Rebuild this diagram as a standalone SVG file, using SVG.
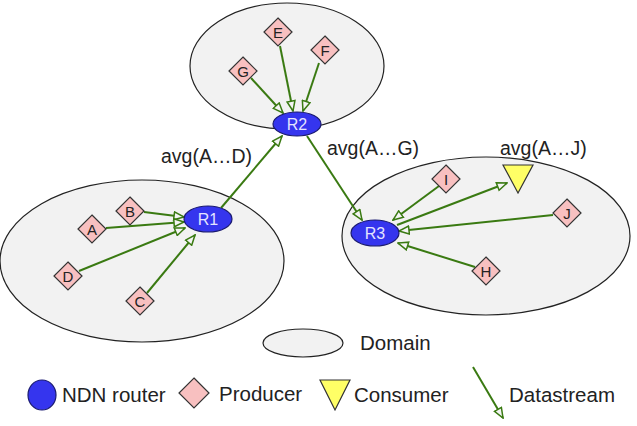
<svg xmlns="http://www.w3.org/2000/svg" width="637" height="426" viewBox="0 0 637 426">
<defs>
<style>
.dom{fill:#f2f2f2;stroke:#222;stroke-width:1.2}
.rt{fill:#3535ee;stroke:#1a1a70;stroke-width:1.2}
.rtx{font-family:"Liberation Sans",Arial,sans-serif;font-size:16px;fill:#e4e4ff;text-anchor:middle}
.pr{fill:#f8c0c0;stroke:#333;stroke-width:1.2}
.prx{font-family:"Liberation Sans",Arial,sans-serif;font-size:15px;fill:#222;text-anchor:middle}
.co{fill:#ffff66;stroke:#333;stroke-width:1.2}
.lb{font-family:"Liberation Sans",Arial,sans-serif;font-size:19.5px;fill:#222}
.ds{stroke:#3a7a12;stroke-width:2;fill:none;marker-end:url(#ah)}
</style>
<marker id="ah" viewBox="0 0 12 10" refX="11" refY="5" markerWidth="12" markerHeight="10" markerUnits="userSpaceOnUse" orient="auto">
<path d="M1,1 L11,5 L1,9 z" fill="#f4f4f4" stroke="#3a7a12" stroke-width="1.5"/>
</marker>
</defs>
<g id="domains">
<ellipse id="domain-top" class="dom" cx="287" cy="66" rx="97" ry="63"/>
<ellipse id="domain-left" class="dom" cx="142" cy="261" rx="142" ry="81"/>
<ellipse id="domain-right" class="dom" cx="486" cy="236" rx="144" ry="79"/>
</g>
<g id="connectors">
<line class="ds" x1="280" y1="46" x2="293" y2="111"/>
<line class="ds" x1="319" y1="63" x2="303" y2="111"/>
<line class="ds" x1="251" y1="78" x2="283" y2="113"/>
<line class="ds" x1="221" y1="208" x2="282" y2="136"/>
<line class="ds" x1="307" y1="136" x2="362" y2="220"/>
<line class="ds" x1="144" y1="212" x2="184" y2="217"/>
<line class="ds" x1="106" y1="228" x2="184" y2="222"/>
<line class="ds" x1="79" y1="271" x2="185" y2="228"/>
<line class="ds" x1="147" y1="293" x2="195" y2="235"/>
<line class="ds" x1="439" y1="186" x2="393" y2="220"/>
<line class="ds" x1="397" y1="225" x2="507" y2="183"/>
<line class="ds" x1="553" y1="215" x2="399" y2="231"/>
<line class="ds" x1="475" y1="267" x2="398" y2="243"/>
</g>
<g id="R2"><ellipse class="rt" cx="297" cy="124" rx="24" ry="12"/><text class="rtx" x="297" y="130">R2</text></g>
<g id="R1"><ellipse class="rt" cx="208" cy="219" rx="24" ry="13"/><text class="rtx" x="208" y="225">R1</text></g>
<g id="R3"><ellipse class="rt" cx="375" cy="233" rx="24" ry="13"/><text class="rtx" x="375" y="239">R3</text></g>
<g id="E"><polygon class="pr" points="278,18 292,32 278,46 264,32"/><text class="prx" x="278" y="37.5">E</text></g>
<g id="F"><polygon class="pr" points="325,36 339,50 325,64 311,50"/><text class="prx" x="325" y="55.5">F</text></g>
<g id="G"><polygon class="pr" points="243,57 257,71 243,85 229,71"/><text class="prx" x="243" y="76.5">G</text></g>
<g id="B"><polygon class="pr" points="130,197 144,211 130,225 116,211"/><text class="prx" x="130" y="216.5">B</text></g>
<g id="A"><polygon class="pr" points="92,215 106,229 92,243 78,229"/><text class="prx" x="92" y="234.5">A</text></g>
<g id="D"><polygon class="pr" points="68,262 82,276 68,290 54,276"/><text class="prx" x="68" y="281.5">D</text></g>
<g id="C"><polygon class="pr" points="140,287 154,301 140,315 126,301"/><text class="prx" x="140" y="306.5">C</text></g>
<g id="I"><polygon class="pr" points="446,165 460,179 446,193 432,179"/><text class="prx" x="446" y="184.5">I</text></g>
<g id="J"><polygon class="pr" points="567,199 581,213 567,227 553,213"/><text class="prx" x="567" y="218.5">J</text></g>
<g id="H"><polygon class="pr" points="486,257 500,271 486,285 472,271"/><text class="prx" x="486" y="276.5">H</text></g>
<g id="consumer"><polygon class="co" points="503,165 533,165 518,193"/></g>
<g id="labels">
<text class="lb" x="161" y="163">avg(A…D)</text>
<text class="lb" x="327" y="155">avg(A…G)</text>
<text class="lb" x="500" y="155">avg(A…J)</text>
</g>
<g id="legend">
<ellipse class="dom" cx="303" cy="343" rx="40" ry="14"/>
<text class="lb" x="360" y="350" style="font-size:20.5px">Domain</text>
<ellipse class="rt" cx="42" cy="395" rx="14" ry="15"/>
<text class="lb" x="62" y="402" style="font-size:20.5px">NDN router</text>
<polygon class="pr" points="194,378 209,393 194,408 179,393"/>
<text class="lb" x="219" y="401" style="font-size:20.5px">Producer</text>
<polygon class="co" points="320,380 350,380 335,410"/>
<text class="lb" x="354" y="402" style="font-size:20.5px">Consumer</text>
<line class="ds" x1="473" y1="367" x2="503" y2="418"/>
<text class="lb" x="509" y="402" style="font-size:20.5px">Datastream</text>
</g>
</svg>
